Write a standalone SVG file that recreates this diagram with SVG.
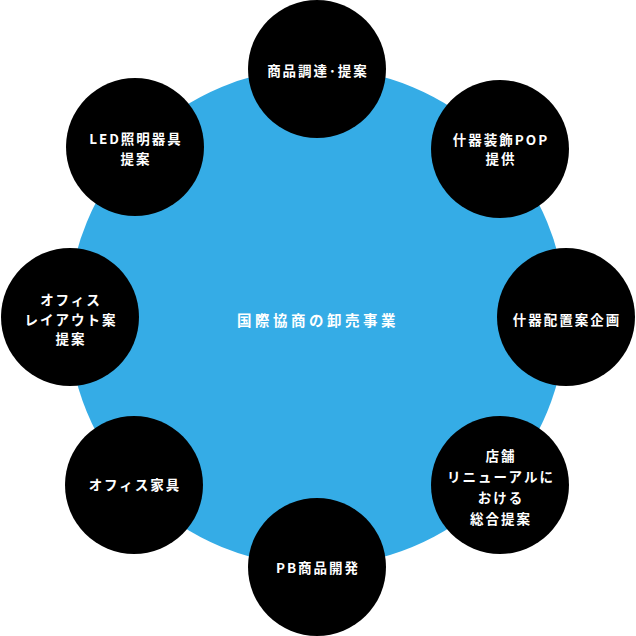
<svg xmlns="http://www.w3.org/2000/svg" width="636" height="636" viewBox="0 0 636 636">
<style>
.n{fill:#000}
.t{fill:#fff;font-family:"Noto Sans CJK JP","Noto Sans",sans-serif;font-size:13.5px;letter-spacing:2px;text-anchor:middle;dominant-baseline:central;font-weight:700}
.c{font-size:14.5px;letter-spacing:3.5px}
</style>
<rect width="636" height="636" fill="#fff"/>
<g id="hub">
<circle cx="317" cy="317" r="249" fill="#35ACE6"/>
<text class="t c" x="318" y="319">国際協商の卸売事業</text>
</g>
<g id="connectors"></g>
<g id="n-top"><circle class="n" cx="317" cy="69" r="69"/><text class="t" x="318" y="70">商品調達･提案</text></g>
<g id="n-tr"><circle class="n" cx="500" cy="149" r="69"/><text class="t" x="501" y="139">什器装飾POP</text><text class="t" x="501" y="158">提供</text></g>
<g id="n-r"><circle class="n" cx="566" cy="317" r="69"/><text class="t" x="567" y="319">什器配置案企画</text></g>
<g id="n-br"><circle class="n" cx="500" cy="485" r="69"/><text class="t" x="501" y="455">店舗</text><text class="t" x="501" y="476">リニューアルに</text><text class="t" x="501" y="497">おける</text><text class="t" x="501" y="518">総合提案</text></g>
<g id="n-b"><circle class="n" cx="317" cy="567" r="69"/><text class="t" x="318" y="567">PB商品開発</text></g>
<g id="n-bl"><circle class="n" cx="134" cy="485" r="69"/><text class="t" x="135" y="484">オフィス家具</text></g>
<g id="n-l"><circle class="n" cx="70" cy="317" r="69"/><text class="t" x="71" y="299">オフィス</text><text class="t" x="71" y="319">レイアウト案</text><text class="t" x="71" y="338">提案</text></g>
<g id="n-tl"><circle class="n" cx="135" cy="147" r="69"/><text class="t" x="136" y="138">LED照明器具</text><text class="t" x="136" y="158">提案</text></g>
</svg>
